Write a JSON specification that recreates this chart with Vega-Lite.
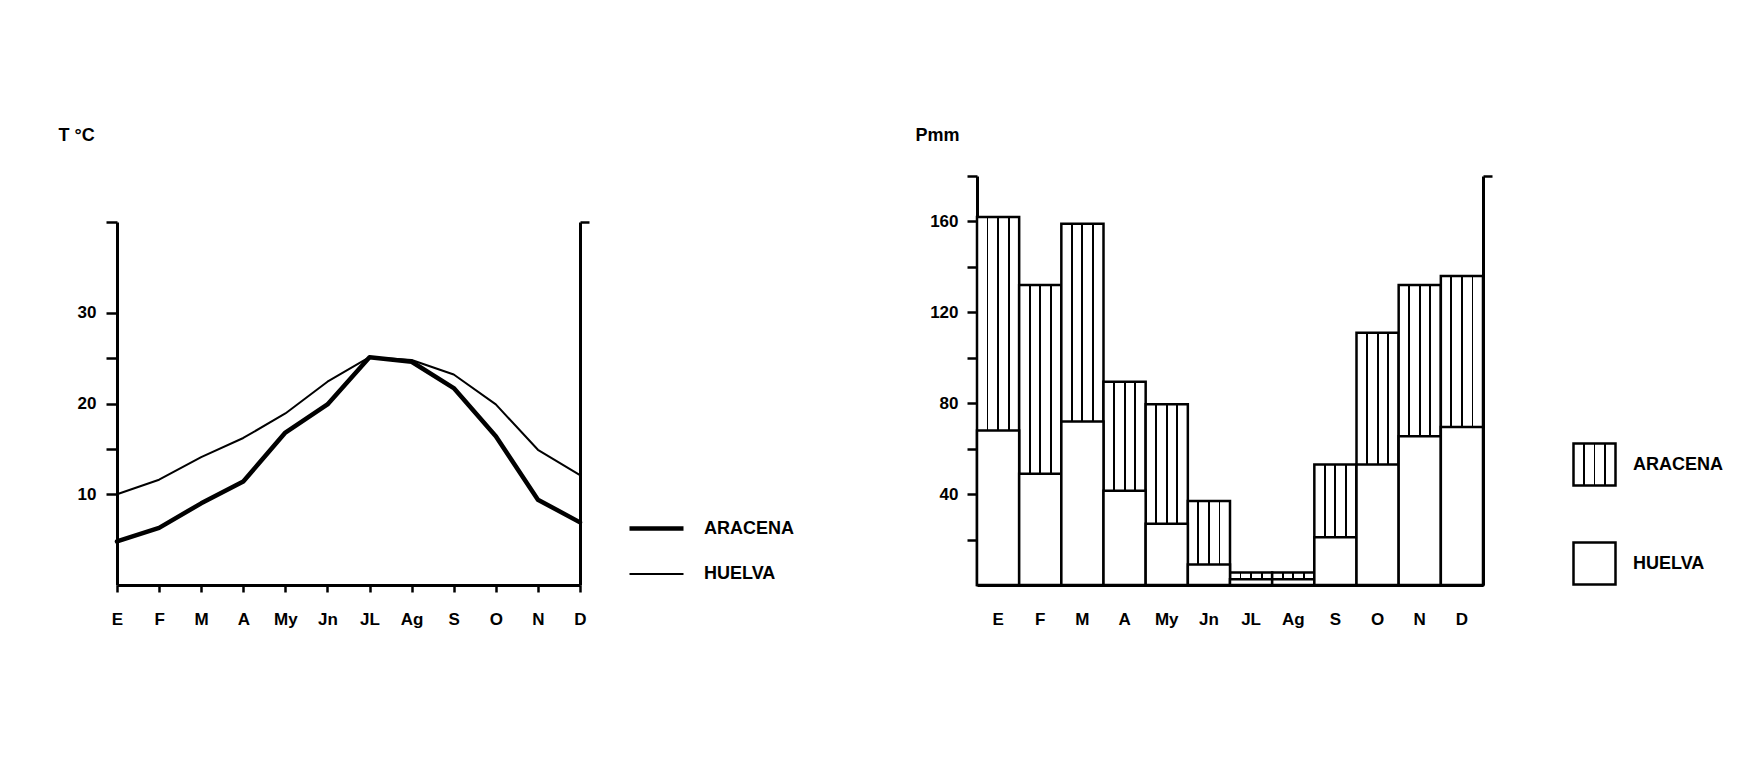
{
  "$schema": "https://vega.github.io/schema/vega-lite/v6.json",
  "background": "white",
  "padding": {"left": 58, "top": 126, "right": 10, "bottom": 10},
  "datasets": {
    "temp": [
      {"month": "E", "station": "ARACENA", "t": 4.8},
      {"month": "F", "station": "ARACENA", "t": 6.3},
      {"month": "M", "station": "ARACENA", "t": 9.0},
      {"month": "A", "station": "ARACENA", "t": 11.4},
      {"month": "My", "station": "ARACENA", "t": 16.8},
      {"month": "Jn", "station": "ARACENA", "t": 19.9},
      {"month": "JL", "station": "ARACENA", "t": 25.1},
      {"month": "Ag", "station": "ARACENA", "t": 24.6},
      {"month": "S", "station": "ARACENA", "t": 21.7},
      {"month": "O", "station": "ARACENA", "t": 16.4},
      {"month": "N", "station": "ARACENA", "t": 9.4},
      {"month": "D", "station": "ARACENA", "t": 6.9},
      {"month": "E", "station": "HUELVA", "t": 10.0},
      {"month": "F", "station": "HUELVA", "t": 11.6},
      {"month": "M", "station": "HUELVA", "t": 14.1},
      {"month": "A", "station": "HUELVA", "t": 16.2},
      {"month": "My", "station": "HUELVA", "t": 18.9},
      {"month": "Jn", "station": "HUELVA", "t": 22.4},
      {"month": "JL", "station": "HUELVA", "t": 25.1},
      {"month": "Ag", "station": "HUELVA", "t": 24.8},
      {"month": "S", "station": "HUELVA", "t": 23.2},
      {"month": "O", "station": "HUELVA", "t": 19.9},
      {"month": "N", "station": "HUELVA", "t": 14.9},
      {"month": "D", "station": "HUELVA", "t": 12.1}
    ],
    "prec": [
      {"month": "E", "station": "ARACENA", "p": 162},
      {"month": "F", "station": "ARACENA", "p": 132},
      {"month": "M", "station": "ARACENA", "p": 159},
      {"month": "A", "station": "ARACENA", "p": 89.5},
      {"month": "My", "station": "ARACENA", "p": 79.5},
      {"month": "Jn", "station": "ARACENA", "p": 37},
      {"month": "JL", "station": "ARACENA", "p": 5.5},
      {"month": "Ag", "station": "ARACENA", "p": 5.5},
      {"month": "S", "station": "ARACENA", "p": 53},
      {"month": "O", "station": "ARACENA", "p": 111},
      {"month": "N", "station": "ARACENA", "p": 132},
      {"month": "D", "station": "ARACENA", "p": 136},
      {"month": "E", "station": "HUELVA", "p": 68},
      {"month": "F", "station": "HUELVA", "p": 49},
      {"month": "M", "station": "HUELVA", "p": 72},
      {"month": "A", "station": "HUELVA", "p": 41.5},
      {"month": "My", "station": "HUELVA", "p": 27},
      {"month": "Jn", "station": "HUELVA", "p": 9},
      {"month": "JL", "station": "HUELVA", "p": 2.5},
      {"month": "Ag", "station": "HUELVA", "p": 2.5},
      {"month": "S", "station": "HUELVA", "p": 21},
      {"month": "O", "station": "HUELVA", "p": 53},
      {"month": "N", "station": "HUELVA", "p": 65.5},
      {"month": "D", "station": "HUELVA", "p": 69.5}
    ]
  },
  "spacing": 121,
  "resolve": {"legend": {"strokeWidth": "independent", "fill": "independent"}},
  "hconcat": [
    {
      "width": 463,
      "height": 409,
      "data": {"name": "temp"},
      "layer": [
        {
          "mark": {"type": "line", "color": "black", "strokeJoin": "round", "strokeCap": "round"},
          "encoding": {
            "x": {
              "field": "month", "type": "ordinal",
              "sort": ["E","F","M","A","My","Jn","JL","Ag","S","O","N","D"],
              "scale": {"type": "point", "padding": 0},
              "axis": {"title": null, "labelAngle": 0, "tickSize": 7, "labelPadding": 19}
            },
            "y": {
              "field": "t", "type": "quantitative",
              "scale": {"domain": [0, 40], "nice": false, "range": [409, 46]},
              "axis": {
                "values": [10, 15, 20, 25, 30, 40],
                "labelExpr": "(datum.value == 10 || datum.value == 20 || datum.value == 30) ? datum.label : ''",
                "tickSize": 11, "labelPadding": 10,
                "title": "T °C", "titleAngle": 0, "titleAlign": "left", "titleBaseline": "top",
                "titleFontSize": 18,
                "titleX": -59, "titleY": -50
              }
            },
            "strokeWidth": {
              "field": "station", "type": "nominal",
              "scale": {"domain": ["ARACENA", "HUELVA"], "range": [4.5, 2]},
              "legend": {
                "title": null, "orient": "none", "legendX": 510, "legendY": 323,
                "symbolType": "stroke", "symbolSize": 2916, "symbolStrokeColor": "black",
                "labelOffset": 18, "rowPadding": 8, "padding": 0
              }
            }
          }
        },
        {
          "mark": {"type": "line", "strokeOpacity": 0},
          "encoding": {
            "x": {"field": "month", "type": "ordinal", "sort": ["E","F","M","A","My","Jn","JL","Ag","S","O","N","D"]},
            "y": {
              "field": "t", "type": "quantitative",
              "axis": {"orient": "right", "values": [40], "labels": false, "tickSize": 9, "title": null}
            }
          }
        }
      ],
      "resolve": {"axis": {"y": "independent"}}
    },
    {
      "width": 506,
      "height": 409,
      "data": {"name": "prec"},
      "layer": [
        {
          "mark": {"type": "bar", "stroke": "black", "strokeWidth": 2.5},
          "encoding": {
            "x": {
              "field": "month", "type": "ordinal",
              "sort": ["E","F","M","A","My","Jn","JL","Ag","S","O","N","D"],
              "scale": {"type": "band", "paddingInner": 0, "paddingOuter": 0},
              "axis": {"title": null, "labelAngle": 0, "ticks": false, "labelPadding": 26}
            },
            "y": {
              "field": "p", "type": "quantitative", "stack": null,
              "scale": {"domain": [0, 180], "nice": false},
              "axis": {
                "values": [20, 40, 60, 80, 100, 120, 140, 160, 180],
                "labelExpr": "(datum.value == 40 || datum.value == 80 || datum.value == 120 || datum.value == 160) ? datum.label : ''",
                "tickSize": 10, "labelPadding": 9,
                "title": "Pmm", "titleAngle": 0, "titleAlign": "left", "titleBaseline": "top",
                "titleFontSize": 18,
                "titleX": -62, "titleY": -50
              }
            },
            "fill": {
              "field": "station", "type": "nominal",
              "scale": {
                "domain": ["ARACENA", "HUELVA"],
                "range": [
                  {"expr": "{gradient: 'linear', x1: 0, y1: 0, x2: 1, y2: 0, stops: [{offset: 0, color: 'white'}, {offset: 0.228, color: 'white'}, {offset: 0.228, color: 'black'}, {offset: 0.272, color: 'black'}, {offset: 0.272, color: 'white'}, {offset: 0.478, color: 'white'}, {offset: 0.478, color: 'black'}, {offset: 0.522, color: 'black'}, {offset: 0.522, color: 'white'}, {offset: 0.728, color: 'white'}, {offset: 0.728, color: 'black'}, {offset: 0.772, color: 'black'}, {offset: 0.772, color: 'white'}, {offset: 1, color: 'white'}]}"},
                  "white"
                ]
              },
              "legend": {
                "title": null, "orient": "none", "legendX": 595, "legendY": 266,
                "symbolType": "square", "symbolSize": 1764,
                "symbolStrokeColor": "black", "symbolStrokeWidth": 2.5, "symbolOpacity": 1,
                "labelOffset": 16, "rowPadding": 46, "padding": 0
              }
            }
          }
        },
        {
          "mark": {"type": "tick", "opacity": 0},
          "encoding": {
            "x": {"field": "month", "type": "ordinal", "sort": ["E","F","M","A","My","Jn","JL","Ag","S","O","N","D"]},
            "y": {
              "field": "p", "type": "quantitative",
              "axis": {"orient": "right", "values": [180], "labels": false, "tickSize": 9, "title": null}
            }
          }
        }
      ],
      "resolve": {"axis": {"y": "independent"}}
    }
  ],
  "config": {
    "view": {"stroke": null},
    "font": "Liberation Sans",
    "axis": {
      "grid": false,
      "domainColor": "black", "domainWidth": 3,
      "tickColor": "black", "tickWidth": 2.5,
      "labelFont": "Liberation Sans", "labelFontWeight": "bold", "labelFontSize": 17, "labelColor": "black",
      "titleFont": "Liberation Sans", "titleFontWeight": "bold", "titleFontSize": 16, "titleColor": "black"
    },
    "legend": {
      "labelFont": "Liberation Sans", "labelFontWeight": "bold", "labelFontSize": 18, "labelColor": "black"
    }
  }
}
